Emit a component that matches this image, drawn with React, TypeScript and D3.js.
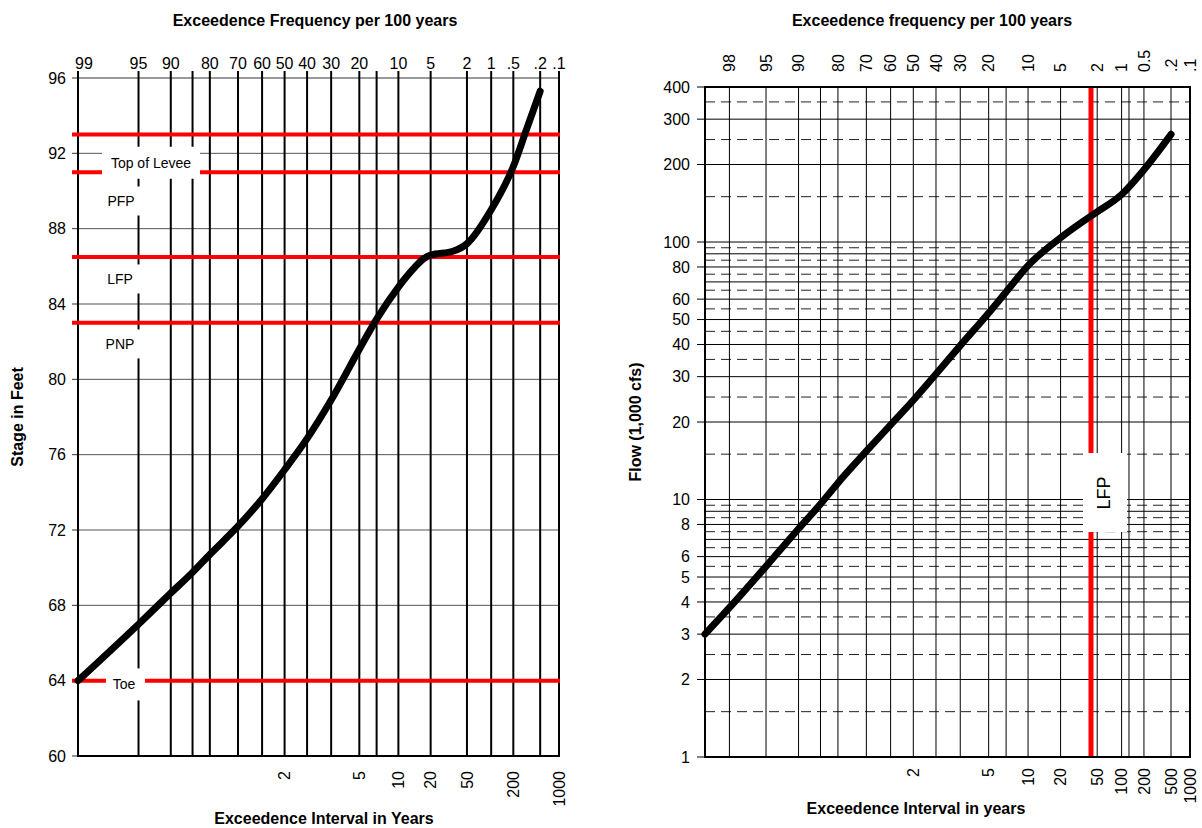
import React from 'react';
import * as d3 from 'd3';

// ---------- Left chart data ----------
const leftTopLabels = ['99', '95', '90', '80', '70', '60', '50', '40', '30', '20', '10', '5', '2', '1', '.5', '.2', '.1'];
const leftTopValues = [99, 95, 90, 80, 70, 60, 50, 40, 30, 20, 10, 5, 2, 1, 0.5, 0.2, 0.1];
const leftGridProb = [99, 95, 90, 85, 80, 70, 60, 50, 40, 30, 20, 15, 10, 5, 2, 1, 0.5, 0.2, 0.1];
const leftBottomYears = [2, 5, 10, 20, 50, 200, 1000];
const leftStageTicks = [60, 64, 68, 72, 76, 80, 84, 88, 92, 96];
const leftCurveProb = [99, 95, 90, 85, 80, 70, 60, 50, 40, 30, 20, 15, 10, 7.4, 5.9, 5, 2.9, 2, 1, 0.5, 0.32, 0.2];
const leftCurveStage = [64.0, 67.0, 68.65, 69.75, 70.7, 72.2, 73.65, 75.2, 76.85, 78.9, 81.6, 83.2, 84.9, 85.85, 86.4, 86.6, 86.8, 87.2, 89.0, 91.3, 93.3, 95.3];
const redLevelStages = [93, 91, 86.5, 83, 64];
const levelNames = ['Top of Levee', 'PFP', 'LFP', 'PNP', 'Toe'];
const levelLabelStages = [91.5, 89.47, 85.33, 81.88, 63.8];

// ---------- Right chart data ----------
const rightTopLabels = ['98', '95', '90', '80', '70', '60', '50', '40', '30', '20', '10', '5', '2', '1', '0.5', '.2', '.1'];
const rightTopValues = [98, 95, 90, 80, 70, 60, 50, 40, 30, 20, 10, 5, 2, 1, 0.5, 0.2, 0.1];
const rightGridProb = [98, 95, 90, 85, 80, 70, 60, 50, 40, 30, 20, 15, 10, 5, 2, 1, 0.8, 0.5, 0.2];
const rightBottomYears = [2, 5, 10, 20, 50, 100, 200, 500, 1000];
const rightFlowTicks = [1, 2, 3, 4, 5, 6, 8, 10, 20, 30, 40, 50, 60, 80, 100, 200, 300, 400];
const rightCurveProb = [99, 98, 95, 90, 85, 80, 70, 60, 50, 40, 30, 20, 15, 10, 5, 2.3, 2, 1, 0.5, 0.2];
const rightCurveFlow = [3.0, 3.8, 5.5, 7.7, 9.6, 11.6, 15.4, 19.5, 24.3, 30.7, 39.6, 53.0, 64.0, 81, 104, 127, 131, 153, 191, 262];
const lfpProb = 2.36;

// inverse standard normal CDF (Acklam)
function invNorm(p: number): number {
  const a = [-3.969683028665376e1, 2.209460984245205e2, -2.759285104469687e2, 1.38357751867269e2, -3.066479806614716e1, 2.506628277459239];
  const b = [-5.447609879822406e1, 1.615858368580409e2, -1.556989798598866e2, 6.680131188771972e1, -1.328068155288572e1];
  const c = [-7.784894002430293e-3, -3.223964580411365e-1, -2.400758277161838, -2.549732539343734, 4.374664141464968, 2.938163982698783];
  const d = [7.784695709041462e-3, 3.224671290700398e-1, 2.445134137142996, 3.754408661907416];
  const pl = 0.02425;
  if (p < pl) {
    const q = Math.sqrt(-2 * Math.log(p));
    return (((((c[0] * q + c[1]) * q + c[2]) * q + c[3]) * q + c[4]) * q + c[5]) / ((((d[0] * q + d[1]) * q + d[2]) * q + d[3]) * q + 1);
  }
  if (p <= 1 - pl) {
    const q = p - 0.5;
    const r = q * q;
    return ((((((a[0] * r + a[1]) * r + a[2]) * r + a[3]) * r + a[4]) * r + a[5]) * q) / (((((b[0] * r + b[1]) * r + b[2]) * r + b[3]) * r + b[4]) * r + 1);
  }
  const q = Math.sqrt(-2 * Math.log(1 - p));
  return -(((((c[0] * q + c[1]) * q + c[2]) * q + c[3]) * q + c[4]) * q + c[5]) / ((((d[0] * q + d[1]) * q + d[2]) * q + d[3]) * q + 1);
}
const zOf = (pct: number) => invNorm(1 - pct / 100);

const FONT = '"Liberation Sans", Arial, sans-serif';

// Left layout
const L = { x0: 78, x1: 559, y0: 78, y1: 756 };
const xL = d3.scaleLinear().domain([zOf(99), zOf(0.1)]).range([L.x0, L.x1]);
const yL = d3.scaleLinear().domain([60, 96]).range([L.y1, L.y0]);

// Right layout
const R = { x0: 705, x1: 1190, y0: 87, y1: 757 };
const xR = d3.scaleLinear().domain([zOf(99), zOf(0.1)]).range([R.x0, R.x1]);
const yR = d3.scaleLog().domain([1, 400]).range([R.y1, R.y0]);

export default function App() {
  const leftPts = leftCurveProb.map((p, i) => [xL(zOf(p)), yL(leftCurveStage[i])] as [number, number]);
  const rightPts = rightCurveProb.map((p, i) => [xR(zOf(p)), yR(rightCurveFlow[i])] as [number, number]);
  const line = d3.line().curve(d3.curveMonotoneX);

  // right chart horizontal grid
  const solidR: number[] = [];
  const dashR: number[] = [];
  [1, 10, 100].forEach((dec) => {
    for (let n = 1; n <= 9; n++) {
      const v = n * dec;
      if (v < 400 && v > 1) solidR.push(v);
      const h = (n + 0.5) * dec;
      if (h < 400) dashR.push(h);
    }
  });

  // label boxes (left)
  const boxes = [
    { x: 102, w: 98, h: 32 },
    { x: 100, w: 43, h: 29 },
    { x: 100, w: 43, h: 29 },
    { x: 100, w: 43, h: 29 },
    { x: 106, w: 39, h: 32 },
  ];
  const textX = [151, 121, 120, 120, 124];

  const lfpX = xR(zOf(lfpProb));

  return (
    <svg width={1202} height={828} style={{ position: 'absolute', left: 0, top: 0, background: '#fff' }} fontFamily={FONT}>
      <rect x={0} y={0} width={1202} height={828} fill="#fff" />
      {/* ================= LEFT CHART ================= */}
      <text x={315} y={26} textAnchor="middle" fontSize={16} fontWeight="bold">Exceedence Frequency per 100 years</text>
      {leftStageTicks.map((s) => (
        <g key={'lh' + s}>
          {s > 60 && s < 96 && <line x1={L.x0} x2={L.x1} y1={yL(s)} y2={yL(s)} stroke="#555" strokeWidth={1} />}
          <line x1={L.x0 - 6} x2={L.x0} y1={yL(s)} y2={yL(s)} stroke="#333" strokeWidth={1} />
          <text x={66} y={yL(s)} dy="0.36em" textAnchor="end" fontSize={16}>{s}</text>
        </g>
      ))}
      <line x1={L.x0} x2={L.x1} y1={yL(96)} y2={yL(96)} stroke="#999" strokeWidth={2} />
      {leftGridProb.map((p) => (
        <line key={'lv' + p} x1={xL(zOf(p))} x2={xL(zOf(p))} y1={L.y0 - 7} y2={L.y1} stroke="#000" strokeWidth={2} />
      ))}
      <line x1={L.x0 - 1} x2={L.x1 + 1} y1={L.y1} y2={L.y1} stroke="#000" strokeWidth={2} />
      {leftTopValues.map((p, i) => (
        <text key={'lt' + i} x={i === 0 ? xL(zOf(p)) - 3 : xL(zOf(p))} y={69} textAnchor={i === 0 ? 'start' : 'middle'} fontSize={16}>{leftTopLabels[i]}</text>
      ))}
      {leftBottomYears.map((yr) => {
        const x = xL(zOf(100 / yr));
        return (
          <text key={'lb' + yr} transform={`translate(${x},771) rotate(-90)`} textAnchor="end" dy="0.36em" fontSize={16}>{yr}</text>
        );
      })}
      <text x={324} y={824} textAnchor="middle" fontSize={16} fontWeight="bold">Exceedence Interval in Years</text>
      <text transform={`translate(23,${(L.y0 + L.y1) / 2}) rotate(-90)`} textAnchor="middle" fontSize={16} fontWeight="bold">Stage in Feet</text>
      {redLevelStages.map((s) => (
        <line key={'rl' + s} x1={72} x2={L.x1 + 1} y1={yL(s)} y2={yL(s)} stroke="#ff0000" strokeWidth={4} />
      ))}
      {levelNames.map((n, i) => {
        const cy = yL(levelLabelStages[i]);
        const b = boxes[i];
        return (
          <g key={'lab' + i}>
            <rect x={b.x} y={cy - b.h / 2} width={b.w} height={b.h} fill="#fff" />
            <text x={textX[i]} y={cy} dy="0.36em" textAnchor="middle" fontSize={14}>{n}</text>
          </g>
        );
      })}
      <path d={line(leftPts) || ''} fill="none" stroke="#000" strokeWidth={7} strokeLinecap="round" strokeLinejoin="round" />

      {/* ================= RIGHT CHART ================= */}
      <text x={932} y={26} textAnchor="middle" fontSize={16} fontWeight="bold">Exceedence frequency per 100 years</text>
      {solidR.map((v) => (
        <line key={'rs' + v} x1={R.x0} x2={R.x1} y1={yR(v)} y2={yR(v)} stroke="#000" strokeWidth={1} />
      ))}
      {dashR.map((v) => (
        <line key={'rd' + v} x1={R.x0} x2={R.x1} y1={yR(v)} y2={yR(v)} stroke="#222" strokeWidth={1} strokeDasharray="10,6" />
      ))}
      {rightGridProb.map((p) => (
        <line key={'rv' + p} x1={xR(zOf(p))} x2={xR(zOf(p))} y1={R.y0} y2={R.y1} stroke="#000" strokeWidth={1} />
      ))}
      {rightFlowTicks.map((v) => (
        <g key={'ry' + v}>
          <line x1={R.x0 - 8} x2={R.x0} y1={yR(v)} y2={yR(v)} stroke="#000" strokeWidth={1} />
          <text x={690} y={yR(v)} dy="0.36em" textAnchor="end" fontSize={16}>{v}</text>
        </g>
      ))}
      {rightTopValues.map((p, i) => (
        <text key={'rt' + i} transform={`translate(${xR(zOf(p))},72) rotate(-90)`} textAnchor="start" dy="0.36em" fontSize={16}>{rightTopLabels[i]}</text>
      ))}
      {rightBottomYears.map((yr) => (
        <text key={'rb' + yr} transform={`translate(${xR(zOf(100 / yr))},768) rotate(-90)`} textAnchor="end" dy="0.36em" fontSize={16}>{yr}</text>
      ))}
      <text x={916} y={814} textAnchor="middle" fontSize={16} fontWeight="bold">Exceedence Interval in years</text>
      <text transform={`translate(641,${(R.y0 + R.y1) / 2}) rotate(-90)`} textAnchor="middle" fontSize={16} fontWeight="bold">Flow (1,000 cfs)</text>
      <line x1={lfpX} x2={lfpX} y1={R.y0} y2={R.y1} stroke="#ff0000" strokeWidth={5} />
      <rect x={1083} y={453} width={44} height={79} fill="#fff" />
      <text transform={`translate(1104,493) rotate(-90)`} textAnchor="middle" dy="0.36em" fontSize={18}>LFP</text>
      <path d={line(rightPts) || ''} fill="none" stroke="#000" strokeWidth={7} strokeLinecap="round" strokeLinejoin="round" />
      <rect x={R.x0} y={R.y0} width={R.x1 - R.x0} height={R.y1 - R.y0} fill="none" stroke="#000" strokeWidth={2} />
    </svg>
  );
}
